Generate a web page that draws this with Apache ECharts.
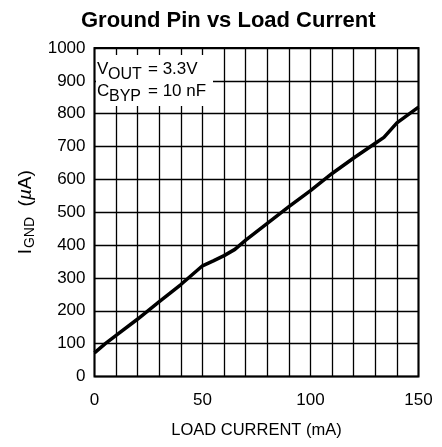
<!DOCTYPE html>
<html>
<head>
<meta charset="utf-8">
<script src="https://cdn.jsdelivr.net/npm/echarts@6/dist/echarts.min.js"></script>
<style>
html,body{margin:0;padding:0;background:#fff;}
#chart{width:442px;height:447px;}
</style>
</head>
<body>
<div id="chart"></div>
<script>
// Data
const loadCurrent = [0, 5, 10, 20, 30, 40, 50, 55, 60, 65, 70, 80, 90, 100, 110, 120, 130, 134, 140, 150];
const groundCurrent = [72, 100, 125, 175, 228, 280, 337, 352, 368, 387, 415, 466, 517, 566, 618, 665, 710, 728, 772, 820];
const xTickLabels = [0, 50, 100, 150];
const yTickLabels = [0, 100, 200, 300, 400, 500, 600, 700, 800, 900, 1000];

const FONT = '"Liberation Sans", Arial, sans-serif';
const chart = echarts.init(document.getElementById('chart'), null, {renderer: 'canvas'});
const seriesData = loadCurrent.map((x, i) => [x, groundCurrent[i]]);

function txt(s, x, y, size) {
  return {type: 'text', z: 51, style: {
    text: s, x: x, y: y, verticalAlign: 'top', align: 'left',
    fontFamily: FONT, fontSize: size, fill: '#000'
  }};
}

chart.setOption({
  animation: false,
  backgroundColor: '#fff',
  title: {
    text: 'Ground Pin vs Load Current',
    left: 81, top: 10, padding: 0,
    textStyle: {fontFamily: FONT, fontWeight: 'bold', fontSize: 22, color: '#000'}
  },
  grid: {
    left: 94.5, right: 23.5, top: 48, bottom: 70.5,
    show: true, borderColor: '#000', borderWidth: 2, backgroundColor: 'transparent'
  },
  xAxis: {
    type: 'value', min: 0, max: 150, interval: 10,
    axisLine: {show: false}, axisTick: {show: false},
    splitLine: {show: true, lineStyle: {color: '#000', width: 1.3}},
    axisLabel: {
      margin: 15, color: '#000', fontFamily: FONT, fontSize: 17,
      formatter: v => xTickLabels.includes(v) ? String(v) : ''
    },
    name: 'LOAD CURRENT (mA)', nameLocation: 'middle', nameGap: 45,
    nameTextStyle: {fontFamily: FONT, fontSize: 16.5, color: '#000'}
  },
  yAxis: {
    type: 'value', min: 0, max: 1000, interval: 100,
    axisLine: {show: false}, axisTick: {show: false},
    splitLine: {show: true, lineStyle: {color: '#000', width: 1.3}},
    axisLabel: {
      margin: 9, color: '#000', fontFamily: FONT, fontSize: 17,
      formatter: v => yTickLabels.includes(v) ? String(v) : ''
    },
    name: '{m|I}{s|GND}{m|  (}{g|µ}{m|A)}', nameLocation: 'middle', nameGap: 54, nameRotate: 90,
    nameTextStyle: {
      color: '#000',
      rich: {
        m: {fontFamily: FONT, fontSize: 19, color: '#000'},
        s: {fontFamily: FONT, fontSize: 14, color: '#000', padding: [9, 0, 0, 1], verticalAlign: 'bottom'},
        g: {fontFamily: FONT, fontSize: 19, fontStyle: 'italic', color: '#000'}
      }
    }
  },
  graphic: [
    {type: 'rect', left: 96, top: 55, shape: {width: 117, height: 51}, style: {fill: '#fff'}, z: 50},
    txt('V', 97, 61, 17),
    txt('OUT', 108, 66.5, 16),
    txt('= 3.3V', 148, 61, 17),
    txt('C', 97, 83, 17),
    txt('BYP', 109, 89, 16),
    txt('= 10 nF', 148, 83, 17)
  ],
  series: [{
    type: 'line', data: seriesData, showSymbol: false, smooth: false,
    lineStyle: {color: '#000', width: 3.5}, z: 10
  }]
});
</script>
</body>
</html>
